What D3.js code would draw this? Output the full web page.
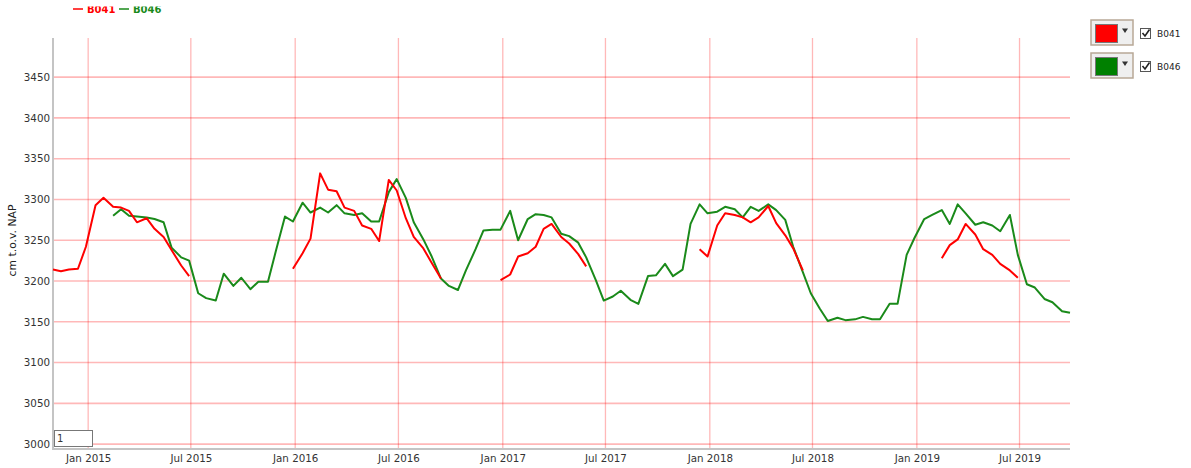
<!DOCTYPE html>
<html>
<head>
<meta charset="utf-8">
<script src="https://cdn.jsdelivr.net/npm/d3@7.9.0/dist/d3.min.js"></script>
<style>
body { margin: 0; background: #fff; font-family: "DejaVu Sans", Verdana, sans-serif; }
svg { display: block; }
</style>
</head>
<body>
<svg id="chart" width="1191" height="468"></svg>
<script>
// semi-monthly groundwater levels, cm t.o.v. NAP
const seriesNames = ['B041', 'B046'];
const seriesColors = ['#ff0000', '#1a8a1a'];

const b041 = [
    ['2014-10-31', 3214], ['2014-11-14', 3212], ['2014-11-28', 3214], ['2014-12-14', 3215],
    ['2014-12-28', 3242], ['2015-01-14', 3293], ['2015-01-28', 3302], ['2015-02-14', 3291],
    ['2015-02-28', 3290], ['2015-03-14', 3286], ['2015-03-28', 3272], ['2015-04-14', 3277],
    ['2015-04-28', 3264], ['2015-05-14', 3254], ['2015-05-28', 3238], ['2015-06-14', 3219],
    ['2015-06-28', 3206], ['2015-07-14', null],
    ['2015-12-28', 3215], ['2016-01-14', 3234], ['2016-01-28', 3252], ['2016-02-14', 3332],
    ['2016-02-28', 3312], ['2016-03-14', 3310], ['2016-03-28', 3290], ['2016-04-14', 3286],
    ['2016-04-28', 3268], ['2016-05-14', 3264], ['2016-05-28', 3249], ['2016-06-14', 3324],
    ['2016-06-28', 3311], ['2016-07-14', 3277], ['2016-07-28', 3254], ['2016-08-14', 3240],
    ['2016-08-28', 3223], ['2016-09-14', 3203], ['2016-09-28', null],
    ['2016-12-28', 3201], ['2017-01-14', 3208], ['2017-01-28', 3230], ['2017-02-14', 3234],
    ['2017-02-28', 3242], ['2017-03-14', 3264], ['2017-03-28', 3270], ['2017-04-14', 3254],
    ['2017-04-28', 3246], ['2017-05-14', 3233], ['2017-05-28', 3218], ['2017-06-14', null],
    ['2017-12-14', 3239], ['2017-12-28', 3230], ['2018-01-14', 3268], ['2018-01-28', 3283],
    ['2018-02-14', 3281], ['2018-02-28', 3278], ['2018-03-14', 3272], ['2018-03-28', 3278],
    ['2018-04-14', 3292], ['2018-04-28', 3271], ['2018-05-14', 3256], ['2018-05-28', 3240],
    ['2018-06-14', 3213], ['2018-06-28', null],
    ['2019-02-14', 3228], ['2019-02-28', 3244], ['2019-03-14', 3251], ['2019-03-28', 3270],
    ['2019-04-14', 3257], ['2019-04-28', 3239], ['2019-05-14', 3232], ['2019-05-28', 3221],
    ['2019-06-14', 3213], ['2019-06-28', 3204]
];

const b046 = [
    ['2015-02-14', 3280], ['2015-02-28', 3288], ['2015-03-14', 3280], ['2015-03-28', 3279],
    ['2015-04-14', 3278], ['2015-04-28', 3276], ['2015-05-14', 3272], ['2015-05-28', 3241],
    ['2015-06-14', 3229], ['2015-06-28', 3225], ['2015-07-14', 3185], ['2015-07-28', 3179],
    ['2015-08-14', 3176], ['2015-08-28', 3209], ['2015-09-14', 3194], ['2015-09-28', 3204],
    ['2015-10-14', 3190], ['2015-10-28', 3199], ['2015-11-14', 3199], ['2015-11-28', 3237],
    ['2015-12-14', 3279], ['2015-12-28', 3273], ['2016-01-14', 3296], ['2016-01-28', 3284],
    ['2016-02-14', 3290], ['2016-02-28', 3284], ['2016-03-14', 3293], ['2016-03-28', 3283],
    ['2016-04-14', 3281], ['2016-04-28', 3283], ['2016-05-14', 3273], ['2016-05-28', 3273],
    ['2016-06-14', 3309], ['2016-06-28', 3325], ['2016-07-14', 3302], ['2016-07-28', 3272],
    ['2016-08-14', 3251], ['2016-08-28', 3231], ['2016-09-14', 3203], ['2016-09-28', 3194],
    ['2016-10-14', 3189], ['2016-10-28', 3213], ['2016-11-14', 3239], ['2016-11-28', 3262],
    ['2016-12-14', 3263], ['2016-12-28', 3263], ['2017-01-14', 3286], ['2017-01-28', 3250],
    ['2017-02-14', 3276], ['2017-02-28', 3282], ['2017-03-14', 3281], ['2017-03-28', 3278],
    ['2017-04-14', 3258], ['2017-04-28', 3255], ['2017-05-14', 3247], ['2017-05-28', 3229],
    ['2017-06-14', 3201], ['2017-06-28', 3176], ['2017-07-14', 3181], ['2017-07-28', 3188],
    ['2017-08-14', 3177], ['2017-08-28', 3172], ['2017-09-14', 3206], ['2017-09-28', 3207],
    ['2017-10-14', 3221], ['2017-10-28', 3206], ['2017-11-14', 3214], ['2017-11-28', 3270],
    ['2017-12-14', 3294], ['2017-12-28', 3283], ['2018-01-14', 3285], ['2018-01-28', 3291],
    ['2018-02-14', 3288], ['2018-02-28', 3278], ['2018-03-14', 3291], ['2018-03-28', 3286],
    ['2018-04-14', 3294], ['2018-04-28', 3287], ['2018-05-14', 3275], ['2018-05-28', 3242],
    ['2018-06-14', 3211], ['2018-06-28', 3185], ['2018-07-14', 3166], ['2018-07-28', 3151],
    ['2018-08-14', 3155], ['2018-08-28', 3152], ['2018-09-14', 3153], ['2018-09-28', 3156],
    ['2018-10-14', 3153], ['2018-10-28', 3153], ['2018-11-14', 3172], ['2018-11-28', 3172],
    ['2018-12-14', 3232], ['2018-12-28', 3253], ['2019-01-14', 3276], ['2019-01-28', 3281],
    ['2019-02-14', 3287], ['2019-02-28', 3270], ['2019-03-14', 3294], ['2019-03-28', 3283],
    ['2019-04-14', 3269], ['2019-04-28', 3272], ['2019-05-14', 3268], ['2019-05-28', 3261],
    ['2019-06-14', 3281], ['2019-06-28', 3232], ['2019-07-14', 3196], ['2019-07-28', 3192],
    ['2019-08-14', 3178], ['2019-08-28', 3174], ['2019-09-14', 3163], ['2019-09-28', 3161]
];

const yTicks = [3000, 3050, 3100, 3150, 3200, 3250, 3300, 3350, 3400, 3450];
const xTickLabels = ['2015-01-01', '2015-07-01', '2016-01-01', '2016-07-01', '2017-01-01',
    '2017-07-01', '2018-01-01', '2018-07-01', '2019-01-01', '2019-07-01'];
const xRange = ['2014-10-31', '2019-09-28'];
const yRange = [2994, 3498];

const parse = d3.timeParse('%Y-%m-%d');
const svg = d3.select('#chart');

const plotLeft = 53, plotRight = 1070, plotTop = 38, plotBottom = 449;

let x = d3.scaleTime().domain(xRange.map(parse)).range([plotLeft, plotRight]);
let y = d3.scaleLinear().domain(yRange).range([plotBottom, plotTop]);

// grid
let gridColor = 'rgba(255,0,0,0.28)';
svg.append('g')
    .selectAll('line')
    .data(yTicks)
    .join('line')
    .attr('x1', plotLeft).attr('x2', plotRight)
    .attr('y1', d => y(d)).attr('y2', d => y(d))
    .attr('stroke', gridColor).attr('stroke-width', 1.6);

svg.append('g')
    .selectAll('line')
    .data(xTickLabels.map(parse))
    .join('line')
    .attr('x1', d => x(d)).attr('x2', d => x(d))
    .attr('y1', plotTop).attr('y2', plotBottom)
    .attr('stroke', gridColor).attr('stroke-width', 1.3);

// axes
let yAxis = d3.axisLeft(y).tickValues(yTicks).tickFormat(d3.format('d')).tickSize(0).tickPadding(3);
let yg = svg.append('g').attr('transform', `translate(${plotLeft},0)`).call(yAxis);
yg.select('.domain').remove();
yg.selectAll('text').attr('font-size', 10.3).attr('fill', '#333')
    .attr('font-family', '"DejaVu Sans", Verdana, sans-serif');

let xAxis = d3.axisBottom(x).tickValues(xTickLabels.map(parse))
    .tickFormat(d3.timeFormat('%b %Y')).tickSize(0).tickPadding(6);
let xg = svg.append('g').attr('transform', `translate(0,${plotBottom})`).call(xAxis);
xg.select('.domain').remove();
xg.selectAll('text').attr('font-size', 10.3).attr('fill', '#333')
    .attr('font-family', '"DejaVu Sans", Verdana, sans-serif');

svg.append('line')
    .attr('x1', plotLeft).attr('x2', plotLeft).attr('y1', plotTop).attr('y2', plotBottom + 1)
    .attr('stroke', '#c4c4c4').attr('stroke-width', 2);
svg.append('line')
    .attr('x1', plotLeft).attr('x2', plotRight).attr('y1', plotBottom).attr('y2', plotBottom)
    .attr('stroke', '#c4c4c4').attr('stroke-width', 2);

svg.append('text')
    .attr('transform', `translate(16,${(plotTop + plotBottom) / 2 - 3}) rotate(-90)`)
    .attr('text-anchor', 'middle')
    .attr('font-size', 10.8)
    .attr('fill', '#222')
    .text('cm t.o.v. NAP');

// lines
let line = d3.line()
    .defined(d => d[1] !== null)
    .x(d => x(parse(d[0])))
    .y(d => y(d[1]));

[b046, b041].forEach((data, i) => {
    svg.append('path')
        .datum(data)
        .attr('d', line)
        .attr('fill', 'none')
        .attr('stroke', seriesColors[1 - i])
        .attr('stroke-width', 2)
        .attr('stroke-linejoin', 'round');
});

// page input box
svg.append('rect')
    .attr('x', 54.5).attr('y', 430.5).attr('width', 38).attr('height', 16)
    .attr('fill', '#fff').attr('stroke', '#777');
svg.append('text')
    .attr('x', 57).attr('y', 442).attr('font-size', 10).attr('fill', '#333').text('1');

// top legend, cut off at the top
svg.append('clipPath').attr('id', 'topclip')
    .append('rect').attr('x', 0).attr('y', 6.5).attr('width', 300).attr('height', 20);
let topLegend = svg.append('g').attr('clip-path', 'url(#topclip)');
let legendX = [73, 119];
seriesNames.forEach((name, i) => {
    topLegend.append('line')
        .attr('x1', legendX[i]).attr('x2', legendX[i] + 10)
        .attr('y1', 9).attr('y2', 9)
        .attr('stroke', seriesColors[i]).attr('stroke-width', 1.3);
    topLegend.append('text')
        .attr('x', legendX[i] + 14).attr('y', 12.5)
        .attr('font-size', 10).attr('font-weight', 'bold')
        .attr('fill', seriesColors[i])
        .text(name);
});

// right legend with colour pickers and checkboxes
let swatchColors = ['#ff0000', '#008000'];
seriesNames.forEach((name, i) => {
    let g = svg.append('g').attr('transform', `translate(1091,${20 + i * 33})`);
    g.append('rect')
        .attr('x', 0).attr('y', 0).attr('width', 42).attr('height', 25)
        .attr('fill', '#efefef').attr('stroke', '#b8a896').attr('stroke-width', 1.5);
    g.append('rect')
        .attr('x', 4.5).attr('y', 4.5).attr('width', 22).attr('height', 18)
        .attr('fill', swatchColors[i]).attr('stroke', '#777').attr('stroke-width', 1);
    g.append('path')
        .attr('d', 'M31,8.5 L37,8.5 L34,13 Z')
        .attr('fill', '#333');
    g.append('rect')
        .attr('x', 49.5).attr('y', 8.5).attr('width', 10).attr('height', 10)
        .attr('fill', '#fff').attr('stroke', '#555');
    g.append('path')
        .attr('d', 'M51.5,13 L54,16 L58.5,9.5')
        .attr('fill', 'none').attr('stroke', '#222').attr('stroke-width', 1.6);
    g.append('text')
        .attr('x', 66).attr('y', 17)
        .attr('font-size', 9).attr('fill', '#222')
        .text(name);
});
</script>
</body>
</html>
